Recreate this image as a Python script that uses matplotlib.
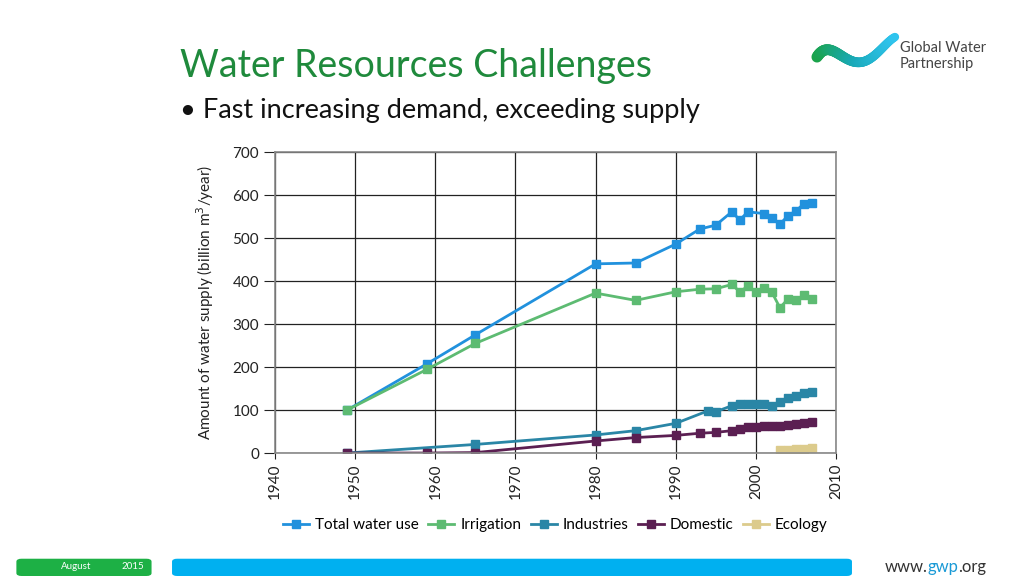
import matplotlib.pyplot as plt
import matplotlib.patches as mpatches
from matplotlib.collections import LineCollection
import numpy as np

plt.rcParams['font.family'] = ['Lato', 'DejaVu Sans']

# data (billion m3/year)
total_years = [1949, 1959, 1965, 1980, 1985, 1990, 1993, 1995, 1997, 1998, 1999, 2001, 2002, 2003, 2004, 2005, 2006, 2007]
total_vals = [100, 208, 275, 440, 442, 486, 521, 530, 561, 542, 561, 557, 546, 532, 552, 563, 580, 582]

irr_years = [1949, 1959, 1965, 1980, 1985, 1990, 1993, 1995, 1997, 1998, 1999, 2000, 2001, 2002, 2003, 2004, 2005, 2006, 2007]
irr_vals = [100, 195, 255, 372, 355, 375, 381, 382, 392, 375, 388, 375, 383, 374, 338, 358, 355, 367, 358]

ind_years = [1949, 1965, 1980, 1985, 1990, 1994, 1995, 1997, 1998, 1999, 2000, 2001, 2002, 2003, 2004, 2005, 2006, 2007]
ind_vals = [0, 20, 42, 52, 69, 98, 96, 110, 113, 115, 113, 115, 110, 119, 127, 132, 139, 143]

dom_years = [1949, 1959, 1965, 1980, 1985, 1990, 1993, 1995, 1997, 1998, 1999, 2000, 2001, 2002, 2003, 2004, 2005, 2006, 2007]
dom_vals = [0, 0, 1, 28, 36, 41, 46, 48, 52, 56, 60, 61, 64, 64, 64, 66, 68, 70, 73]

eco_years = [2003, 2004, 2005, 2006, 2007]
eco_vals = [7, 8, 9, 10, 12]

series = [
    ("Total water use", total_years, total_vals, "#2191dd"),
    ("Irrigation", irr_years, irr_vals, "#5dbb72"),
    ("Industries", ind_years, ind_vals, "#2a86a6"),
    ("Domestic", dom_years, dom_vals, "#5b1f52"),
    ("Ecology", eco_years, eco_vals, "#dccb8c"),
]

fig = plt.figure(figsize=(10.24, 5.76), dpi=100)
ax = fig.add_axes([0.2686, 0.2135, 0.5478, 0.5225])

for name, xs, ys, col in series:
    ax.plot(xs, ys, color=col, lw=2, marker='s', ms=6, mfc=col, mec=col, label=name)

ax.set_xlim(1940, 2010)
ax.set_ylim(0, 700)
ax.set_xticks(np.arange(1940, 2011, 10))
ax.set_yticks(np.arange(0, 701, 100))
ax.tick_params(axis='x', labelrotation=90, length=4, labelsize=11, colors='#222222')
ax.tick_params(axis='y', length=8, labelsize=11, colors='#222222')
ax.grid(color='#222222', lw=0.9)
ax.set_axisbelow(True)
for s in ax.spines.values():
    s.set_color('#888888')
    s.set_linewidth(1.2)
ax.set_ylabel("Amount of water supply (billion m$^3$/year)", fontsize=11, color='#222222', labelpad=12)

leg = ax.legend(loc='upper center', bbox_to_anchor=(0.5, -0.17), ncol=5, frameon=False,
                fontsize=11, handlelength=1.7, columnspacing=0.6, handletextpad=0.4,
                markerscale=0.85)

# slide decorations
fig.text(0.176, 0.885, "Water Resources Challenges", fontsize=27, color='#1f8a3c', va='center')
fig.text(0.176, 0.808, "\u2022 Fast increasing demand, exceeding supply", fontsize=19.5, color='#111111', va='center')

# logo: brush-stroke wave (pixel guide points, smoothed)
guide_x = np.array([817, 830, 855, 875, 895])
guide_y = np.array([57, 50, 62, 55, 37])
coef = np.polyfit(guide_x, guide_y, 4)
px = np.linspace(817, 895, 80)
py = np.polyval(coef, px)
pts = np.column_stack([px / 1024, 1 - py / 576])
segs = np.stack([pts[:-1], pts[1:]], axis=1)
cmap = plt.matplotlib.colors.LinearSegmentedColormap.from_list("gwp", ["#1aa34a", "#19a9b8", "#2fc4ee"])
lc = LineCollection(segs, colors=cmap(np.linspace(0, 1, 79)), linewidths=np.linspace(8, 6, 79),
                    capstyle='round', transform=fig.transFigure)
fig.add_artist(lc)
fig.text(0.879, 0.917, "Global Water", fontsize=10.5, color='#444444', va='center')
fig.text(0.879, 0.889, "Partnership", fontsize=10.5, color='#444444', va='center')

# footer
fig.add_artist(mpatches.FancyBboxPatch((0.016, 0.0), 0.132, 0.03, boxstyle="round,pad=0,rounding_size=0.005",
                                       transform=fig.transFigure, color='#1db045', ec='none'))
fig.add_artist(mpatches.FancyBboxPatch((0.168, 0.0), 0.664, 0.03, boxstyle="round,pad=0,rounding_size=0.005",
                                       transform=fig.transFigure, color='#00b0f0', ec='none'))
fig.text(0.06, 0.016, "August", fontsize=7, color='white', va='center')
fig.text(0.119, 0.016, "2015", fontsize=7, color='white', va='center')
t1 = fig.text(0.864, 0.016, "www.", fontsize=12, color='#333333', va='center')
t2 = fig.text(0, 0, "gwp", fontsize=12, color='#1a9ad6', va='center')
t3 = fig.text(0, 0, ".org", fontsize=12, color='#333333', va='center')
fig.canvas.draw()
r = fig.canvas.get_renderer()
x_next = t1.get_window_extent(r).x1 / fig.bbox.width
t2.set_position((x_next, 0.016))
x_next = t2.get_window_extent(r).x1 / fig.bbox.width
t3.set_position((x_next, 0.016))

fig.savefig("out.png", dpi=100)
